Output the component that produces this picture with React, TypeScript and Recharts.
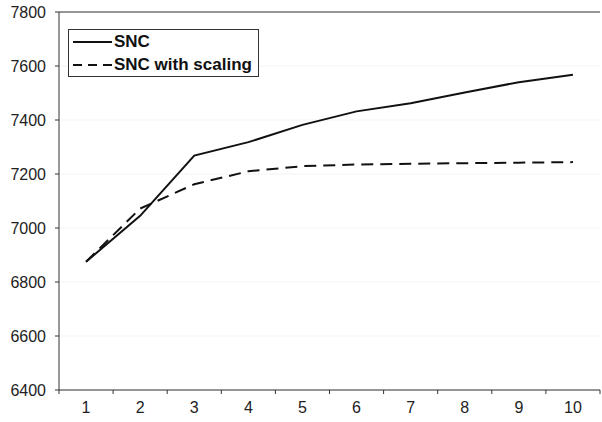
import { LineChart, Line, XAxis, YAxis, CartesianGrid, Legend, ReferenceLine } from 'recharts';

const iterations = [1, 2, 3, 4, 5, 6, 7, 8, 9, 10];
const snc = [6875, 7045, 7268, 7318, 7382, 7432, 7462, 7502, 7540, 7568];
const sncScaling = [6875, 7072, 7162, 7210, 7229, 7235, 7238, 7240, 7242, 7244];
const yTicks = [6400, 6600, 6800, 7000, 7200, 7400, 7600, 7800];

const chartData = iterations.map((it, i) => ({
  it,
  snc: snc[i],
  scaling: sncScaling[i],
}));

// tick at every half step: labels on integers, tick marks on the band edges
const xTicks = [iterations[0] - 0.5, ...iterations.flatMap((it) => [it, it + 0.5])];

const font = '"Liberation Sans", Arial, sans-serif';

function XTick(props: any) {
  const { x, y, payload } = props;
  const v = payload.value;
  if (Number.isInteger(v)) {
    return (
      <text x={x} y={y + 23} textAnchor="middle" fontSize={16} fill="#222" fontFamily={font}>
        {v}
      </text>
    );
  }
  return <line x1={x} x2={x} y1={y} y2={y + 4} stroke="#333" />;
}

function LegendBox() {
  const rows = [
    { label: 'SNC', dash: undefined },
    { label: 'SNC with scaling', dash: '9 6' },
  ];
  return (
    <div style={{ border: '1px solid #333', background: '#fff', width: 189, height: 46 }}>
      {rows.map((r) => (
        <div key={r.label} style={{ display: 'flex', alignItems: 'center', height: 23 }}>
          <svg width={41} height={10} style={{ marginLeft: 4, display: 'block' }}>
            <line x1={0} x2={39} y1={5} y2={5} stroke="#111" strokeWidth={2} strokeDasharray={r.dash} />
          </svg>
          <span style={{ fontFamily: font, fontWeight: 'bold', fontSize: 17, color: '#111', lineHeight: '23px' }}>
            {r.label}
          </span>
        </div>
      ))}
    </div>
  );
}

export default function App() {
  return (
    <div style={{ position: 'absolute', left: 0, top: 0, background: '#fff' }}>
      <LineChart width={602} height={422} data={chartData} margin={{ top: 12, right: 2, left: 0, bottom: 0 }}>
        <CartesianGrid vertical={false} stroke="#f3f3f3" />
        <XAxis
          dataKey="it"
          type="number"
          domain={[0.5, 10.5]}
          ticks={xTicks}
          interval={0}
          height={32}
          tickSize={0}
          tickMargin={0}
          tickLine={false}
          tick={<XTick />}
          axisLine={{ stroke: '#333' }}
        />
        <YAxis
          domain={[6400, 7800]}
          ticks={yTicks}
          width={59}
          tickSize={4}
          tickMargin={9}
          tick={{ fontSize: 16, fill: '#222', fontFamily: font }}
          tickLine={{ stroke: '#333' }}
          axisLine={{ stroke: '#333' }}
        />
        <ReferenceLine y={7800} stroke="#333" />
        <Line
          type="linear"
          dataKey="snc"
          stroke="#111"
          strokeWidth={2}
          dot={false}
          isAnimationActive={false}
        />
        <Line
          type="linear"
          dataKey="scaling"
          stroke="#111"
          strokeWidth={2}
          strokeDasharray="12 7"
          dot={false}
          isAnimationActive={false}
        />
        <Legend
          layout="horizontal"
          align="center"
          verticalAlign="middle"
          content={<LegendBox />}
          wrapperStyle={{ left: 68, top: 29, width: 191, height: 48 }}
        />
      </LineChart>
    </div>
  );
}
